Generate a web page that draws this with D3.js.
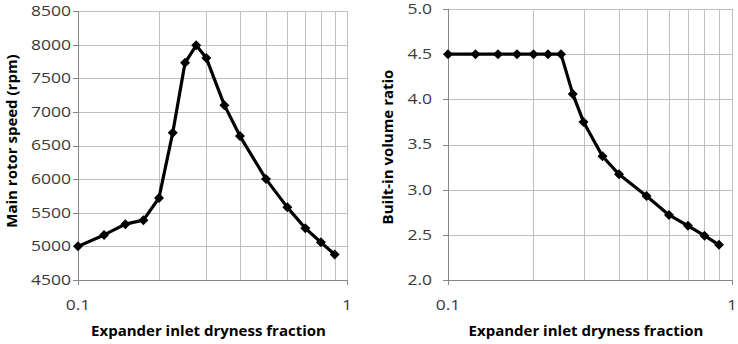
<!doctype html>
<html>
<head>
<script src="https://d3js.org/d3.v7.min.js"></script>
<style>
  body { margin: 0; background: #fff; }
  svg text { font-family: "Open Sans", sans-serif; }
  .tick-label { fill: #3a3a3a; font-size: 14px; }
  .title { fill: #000; font-size: 15px; font-weight: bold; }
</style>
</head>
<body>
<script>
// shared x values (expander inlet dryness fraction)
var dryness = [0.1, 0.125, 0.15, 0.175, 0.2, 0.225, 0.25, 0.275, 0.3, 0.35, 0.4, 0.5, 0.6, 0.7, 0.8, 0.9];
// left panel: main rotor speed (rpm)
var rotorSpeed = [5000, 5170, 5330, 5390, 5720, 6690, 7730, 7990, 7800, 7100, 6640, 6000, 5580, 5270, 5060, 4880];
// right panel: built-in volume ratio
var volumeRatio = [4.5, 4.5, 4.5, 4.5, 4.5, 4.5, 4.5, 4.06, 3.75, 3.37, 3.17, 2.93, 2.72, 2.60, 2.49, 2.39];

var speedTicks = [4500, 5000, 5500, 6000, 6500, 7000, 7500, 8000, 8500];
var ratioTicks = [2.0, 2.5, 3.0, 3.5, 4.0, 4.5, 5.0];
var xGrid = [0.2, 0.3, 0.4, 0.5, 0.6, 0.7, 0.8, 0.9, 1];
var xLabels = [0.1, 1];

var svg = d3.select("body").append("svg")
    .attr("width", 738)
    .attr("height", 344);

function panel(opt) {
  var x = d3.scaleLog().domain([0.1, 1]).range([opt.left, opt.right]);
  var y = d3.scaleLinear().domain(opt.domain).range([opt.bottom, opt.top]);
  var g = svg.append("g");
  var px = function (v) { return Math.round(v) + 0.5; };

  // grid
  g.selectAll(".hg").data(opt.ticks).enter().append("line")
    .attr("x1", opt.left).attr("x2", opt.right)
    .attr("y1", function (d) { return px(y(d)); })
    .attr("y2", function (d) { return px(y(d)); })
    .attr("stroke", "#bfbfbf");
  g.selectAll(".vg").data(xGrid).enter().append("line")
    .attr("y1", opt.top).attr("y2", opt.bottom)
    .attr("x1", function (d) { return px(x(d)); })
    .attr("x2", function (d) { return px(x(d)); })
    .attr("stroke", "#bfbfbf");

  // axis lines + ticks
  var ax = "#868686";
  g.append("line").attr("x1", px(opt.left)).attr("x2", px(opt.left))
    .attr("y1", opt.top).attr("y2", opt.bottom + 5).attr("stroke", ax);
  g.append("line").attr("x1", opt.left - 5).attr("x2", opt.right)
    .attr("y1", px(opt.bottom)).attr("y2", px(opt.bottom)).attr("stroke", ax);
  g.selectAll(".yt").data(opt.ticks).enter().append("line")
    .attr("x1", opt.left - 5).attr("x2", opt.left)
    .attr("y1", function (d) { return px(y(d)); })
    .attr("y2", function (d) { return px(y(d)); })
    .attr("stroke", ax);
  g.append("line").attr("x1", px(opt.right)).attr("x2", px(opt.right))
    .attr("y1", opt.bottom).attr("y2", opt.bottom + 5).attr("stroke", ax);

  // tick labels (the reference font is set wide, so stretch horizontally)
  g.selectAll(".yl").data(opt.ticks).enter().append("text")
    .attr("class", "tick-label")
    .attr("transform", function (d) { return "translate(" + opt.labelX + "," + y(d) + ") scale(1.25,1)"; })
    .attr("dy", "0.35em")
    .attr("text-anchor", "end")
    .text(opt.fmt);
  g.selectAll(".xl").data(xLabels).enter().append("text")
    .attr("class", "tick-label")
    .attr("transform", function (d) { return "translate(" + x(d) + "," + (opt.bottom + 30) + ") scale(1.25,1)"; })
    .attr("text-anchor", "middle")
    .text(function (d) { return d; });

  // titles
  g.append("text").attr("class", "title")
    .attr("x", (opt.left + opt.right) / 2 - 4)
    .attr("y", 336)
    .attr("text-anchor", "middle")
    .text("Expander inlet dryness fraction");
  g.append("text").attr("class", "title")
    .attr("transform", "translate(" + opt.titleX + "," + opt.titleY + ") rotate(-90)")
    .attr("text-anchor", "middle")
    .text(opt.yTitle);

  // series
  var line = d3.line()
    .x(function (d, i) { return x(dryness[i]); })
    .y(function (d) { return y(d); });
  g.append("path").datum(opt.values)
    .attr("d", line)
    .attr("fill", "none")
    .attr("stroke", "#000")
    .attr("stroke-width", 3.2)
    .attr("stroke-linejoin", "round");
  g.selectAll(".pt").data(opt.values).enter().append("path")
    .attr("d", d3.symbol().type(d3.symbolSquare).size(50))
    .attr("transform", function (d, i) { return "translate(" + x(dryness[i]) + "," + y(d) + ") rotate(45)"; })
    .attr("fill", "#000");
}

panel({
  left: 78, right: 347, top: 11, bottom: 280,
  domain: [4500, 8500], ticks: speedTicks, values: rotorSpeed,
  fmt: function (d) { return d; }, labelX: 71,
  yTitle: "Main rotor speed (rpm)", titleX: 17, titleY: 141
});

panel({
  left: 448, right: 732, top: 9, bottom: 280,
  domain: [2.0, 5.0], ticks: ratioTicks, values: volumeRatio,
  fmt: function (d) { return d.toFixed(1); }, labelX: 432,
  yTitle: "Built-in volume ratio", titleX: 393, titleY: 147
});
</script>
</body>
</html>
